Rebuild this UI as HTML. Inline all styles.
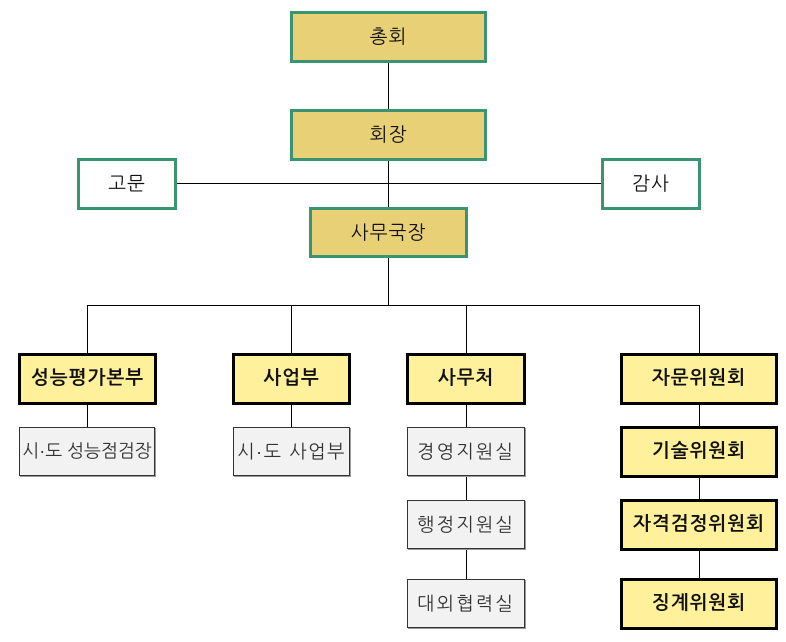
<!DOCTYPE html>
<html>
<head>
<meta charset="utf-8">
<style>
  html,body{margin:0;padding:0;background:#fff;}
  body{width:786px;height:642px;position:relative;overflow:hidden;
       font-family:"Liberation Sans","NanumGothic","Noto Sans CJK KR",sans-serif;}
  .b{position:absolute;box-sizing:border-box;display:flex;align-items:center;justify-content:center;
     font-size:19px;color:#111;white-space:nowrap;letter-spacing:1px;}
  .top{background:#e8d077;border:3px solid #3a9470;}
  .side{background:#fff;border:3px solid #3a9470;}
  .dept{background:#fff09b;border:3px solid #000;font-weight:bold;}
  .sub{background:#f2f2f2;border:1px solid #333;color:#333;letter-spacing:2.2px;font-size:18.5px;
       box-shadow:1px 1px 0 #999;}
  svg{position:absolute;left:0;top:0;}
</style>
</head>
<body>
<svg width="786" height="642" viewBox="0 0 786 642">
  <g stroke="#000" stroke-width="1" fill="none" shape-rendering="crispEdges">
    <line x1="388.5" y1="62" x2="388.5" y2="305.5"/>
    <line x1="177" y1="183.5" x2="601" y2="183.5"/>
    <line x1="87" y1="305.5" x2="699.5" y2="305.5"/>
    <line x1="87.5" y1="305" x2="87.5" y2="427"/>
    <line x1="291.5" y1="305" x2="291.5" y2="427"/>
    <line x1="466.5" y1="305" x2="466.5" y2="579"/>
    <line x1="699.5" y1="305" x2="699.5" y2="579"/>
  </g>
</svg>

<div class="b top" style="left:290px;top:11px;width:197px;height:52px;">총회</div>
<div class="b top" style="left:290px;top:109px;width:197px;height:52px;">회장</div>
<div class="b side" style="left:77px;top:158px;width:100px;height:52px;">고문</div>
<div class="b side" style="left:601px;top:158px;width:100px;height:52px;">감사</div>
<div class="b top" style="left:309px;top:207px;width:159px;height:51px;">사무국장</div>

<div class="b dept" style="left:18px;top:353px;width:139px;height:52px;">성능평가본부</div>
<div class="b sub" style="left:19px;top:427px;width:136px;height:49px;letter-spacing:0;font-size:18px;">시·도 성능점검장</div>

<div class="b dept" style="left:232px;top:353px;width:119px;height:52px;">사업부</div>
<div class="b sub" style="left:233px;top:427px;width:117px;height:49px;letter-spacing:1.5px;">시·도 사업부</div>

<div class="b dept" style="left:406px;top:353px;width:120px;height:52px;">사무처</div>
<div class="b sub" style="left:407px;top:427px;width:118px;height:49px;">경영지원실</div>
<div class="b sub" style="left:407px;top:500px;width:118px;height:49px;">행정지원실</div>
<div class="b sub" style="left:407px;top:579px;width:118px;height:49px;">대외협력실</div>

<div class="b dept" style="left:620px;top:353px;width:158px;height:52px;">자문위원회</div>
<div class="b dept" style="left:620px;top:426px;width:158px;height:52px;">기술위원회</div>
<div class="b dept" style="left:620px;top:499px;width:158px;height:52px;">자격검정위원회</div>
<div class="b dept" style="left:620px;top:578px;width:158px;height:52px;">징계위원회</div>
</body>
</html>
